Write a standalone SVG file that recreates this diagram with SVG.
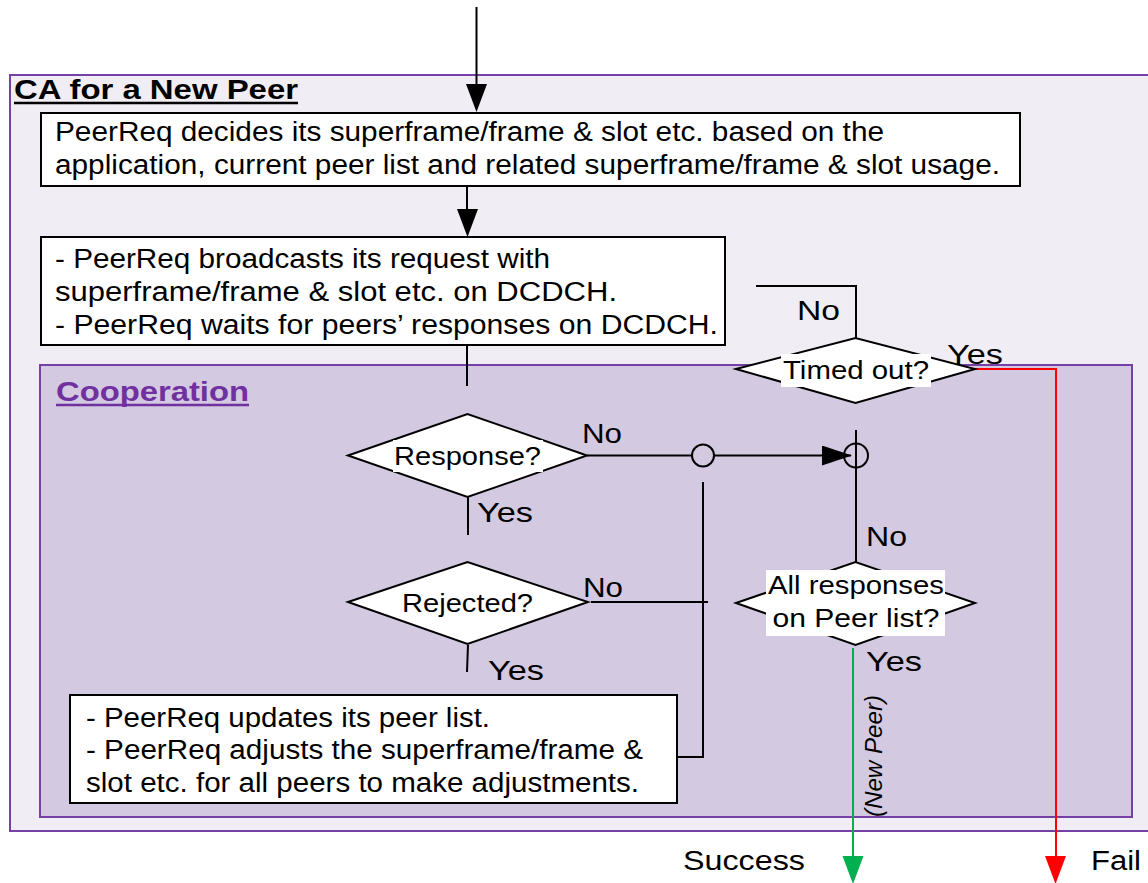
<svg xmlns="http://www.w3.org/2000/svg" width="1148" height="883" viewBox="0 0 1148 883">
<style>
text{font-family:"Liberation Sans",Arial,sans-serif;fill:#000}
.t25{font-size:27px}
.t24{font-size:25px}
.lbl{font-size:27px}
.box{fill:#fff;stroke:#000;stroke-width:2}
.dia{fill:#fff;stroke:#000;stroke-width:2}
.ln{fill:none;stroke:#000;stroke-width:2}
.wb{fill:#fff;stroke:none}
</style>
<defs>
<marker id="ah" viewBox="0 0 30 20" refX="29" refY="10" markerWidth="30" markerHeight="20" markerUnits="userSpaceOnUse" orient="auto">
<path d="M0,0 L30,10 L0,20 z" fill="#000"/>
</marker>
</defs>
<rect width="1148" height="883" fill="#fff"/>
<g id="container-new-peer">
<rect x="10" y="75" width="1160" height="756" fill="#F0EEF4" stroke="#7540A8" stroke-width="2"/>
<text x="14" y="99" style="font-size:28px;font-weight:bold" textLength="284" lengthAdjust="spacingAndGlyphs">CA for a New Peer</text>
<line x1="14" y1="103" x2="298" y2="103" stroke="#000" stroke-width="2.5"/>
</g>
<g id="container-cooperation">
<rect x="40" y="365" width="1092" height="452" fill="#D3C9E0" stroke="#7540A8" stroke-width="2"/>
<text x="56" y="401" style="font-size:28px;font-weight:bold;fill:#7030A0" textLength="193" lengthAdjust="spacingAndGlyphs">Cooperation</text>
<line x1="56" y1="405" x2="249" y2="405" stroke="#7030A0" stroke-width="2.5"/>
</g>
<g id="connectors">
<line x1="476.5" y1="7" x2="476.5" y2="90" class="ln"/>
<polygon points="466,84 487,84 476.5,112" fill="#000"/>
<line x1="467" y1="186" x2="467" y2="215" class="ln"/>
<polygon points="457,209 478,209 467.5,237" fill="#000"/>
<line x1="467" y1="345" x2="467" y2="386" class="ln"/>
<line x1="468" y1="497" x2="468" y2="535" class="ln"/>
<line x1="587" y1="455.5" x2="851" y2="455.5" class="ln" marker-end="url(#ah)"/>
<circle cx="703" cy="455.5" r="11" fill="#D3C9E0" stroke="#000" stroke-width="2"/>
<circle cx="856" cy="455.5" r="12" fill="none" stroke="#000" stroke-width="2"/>
<line x1="856" y1="430" x2="856" y2="562" class="ln"/>
<polyline points="672,757 703,757 703,482" class="ln"/>
<line x1="591" y1="602" x2="708" y2="602" class="ln"/>
<line x1="468" y1="645" x2="467" y2="672" class="ln"/>
<polyline points="856,338 856,286 756,286" class="ln"/>
<polyline points="975,369 1056,369 1056,858" fill="none" stroke="#FF0000" stroke-width="2"/>
<polygon points="1045,856 1066,856 1055.5,884" fill="#FF0000"/>
<line x1="853" y1="648" x2="853" y2="858" stroke="#00B050" stroke-width="2"/>
<polygon points="842.5,856 863.5,856 853,884" fill="#00B050"/>
<text x="582" y="443" class="lbl" textLength="40" lengthAdjust="spacingAndGlyphs">No</text>
<text x="477" y="522" class="lbl" textLength="56" lengthAdjust="spacingAndGlyphs">Yes</text>
<text x="583" y="597" class="lbl" textLength="40" lengthAdjust="spacingAndGlyphs">No</text>
<text x="488" y="680" class="lbl" textLength="56" lengthAdjust="spacingAndGlyphs">Yes</text>
<text x="797" y="320" class="lbl" textLength="43" lengthAdjust="spacingAndGlyphs">No</text>
<text x="947" y="364" class="lbl" textLength="56" lengthAdjust="spacingAndGlyphs">Yes</text>
<text x="866" y="546" class="lbl" textLength="41" lengthAdjust="spacingAndGlyphs">No</text>
<text x="866" y="671" class="lbl" textLength="56" lengthAdjust="spacingAndGlyphs">Yes</text>
<text transform="translate(882,756) rotate(-90)" text-anchor="middle" style="font-size:23px;font-style:italic" textLength="122" lengthAdjust="spacingAndGlyphs">(New Peer)</text>
</g>
<g id="node-decide">
<rect x="41" y="113" width="979" height="73" class="box"/>
<text x="55" y="141" class="t25" textLength="829" lengthAdjust="spacingAndGlyphs">PeerReq decides its superframe/frame &amp; slot etc. based on the</text>
<text x="55" y="174" class="t25" textLength="945" lengthAdjust="spacingAndGlyphs">application, current peer list and related superframe/frame &amp; slot usage.</text>
</g>
<g id="node-broadcast">
<rect x="41" y="237" width="684" height="108" class="box"/>
<text x="55" y="268" class="t25" textLength="495" lengthAdjust="spacingAndGlyphs">- PeerReq broadcasts its request with</text>
<text x="55" y="301" class="t25" textLength="562" lengthAdjust="spacingAndGlyphs">superframe/frame &amp; slot etc. on DCDCH.</text>
<text x="55" y="334" class="t25" textLength="663" lengthAdjust="spacingAndGlyphs">- PeerReq waits for peers’ responses on DCDCH.</text>
</g>
<g id="node-timed-out">
<polygon points="736,369 855.5,338 975,369 855.5,403" class="dia"/>
<rect x="781" y="354" width="150" height="33" class="wb"/>
<text x="856" y="379" class="t24" text-anchor="middle" textLength="146" lengthAdjust="spacingAndGlyphs">Timed out?</text>
</g>
<g id="node-response">
<polygon points="348,455.5 467.5,414 587,455.5 467.5,497" class="dia"/>
<rect x="393" y="440" width="150" height="32" class="wb"/>
<text x="467.5" y="465" class="t24" text-anchor="middle" textLength="147" lengthAdjust="spacingAndGlyphs">Response?</text>
</g>
<g id="node-rejected">
<polygon points="348,602 467.5,562 588,602 467.5,644" class="dia"/>
<text x="467.5" y="612" class="t24" text-anchor="middle" textLength="131" lengthAdjust="spacingAndGlyphs">Rejected?</text>
</g>
<g id="node-all-responses">
<polygon points="736,603 855.5,562 975,603 855.5,645" class="dia"/>
<rect x="766" y="570" width="179" height="66" class="wb"/>
<text x="856" y="594" class="t24" text-anchor="middle" textLength="176" lengthAdjust="spacingAndGlyphs">All responses</text>
<text x="856" y="627" class="t24" text-anchor="middle" textLength="167" lengthAdjust="spacingAndGlyphs">on Peer list?</text>
</g>
<g id="node-update">
<rect x="70" y="695" width="607" height="108" class="box"/>
<text x="86" y="727" class="t25" textLength="404" lengthAdjust="spacingAndGlyphs">- PeerReq updates its peer list.</text>
<text x="86" y="759" class="t25" textLength="557" lengthAdjust="spacingAndGlyphs">- PeerReq adjusts the superframe/frame &amp;</text>
<text x="86" y="792" class="t25" textLength="553" lengthAdjust="spacingAndGlyphs">slot etc. for all peers to make adjustments.</text>
</g>
<g id="node-success">
<text x="683" y="870" class="lbl" textLength="122" lengthAdjust="spacingAndGlyphs">Success</text>
</g>
<g id="node-fail">
<text x="1091" y="870" class="lbl" textLength="50" lengthAdjust="spacingAndGlyphs">Fail</text>
</g>
</svg>
